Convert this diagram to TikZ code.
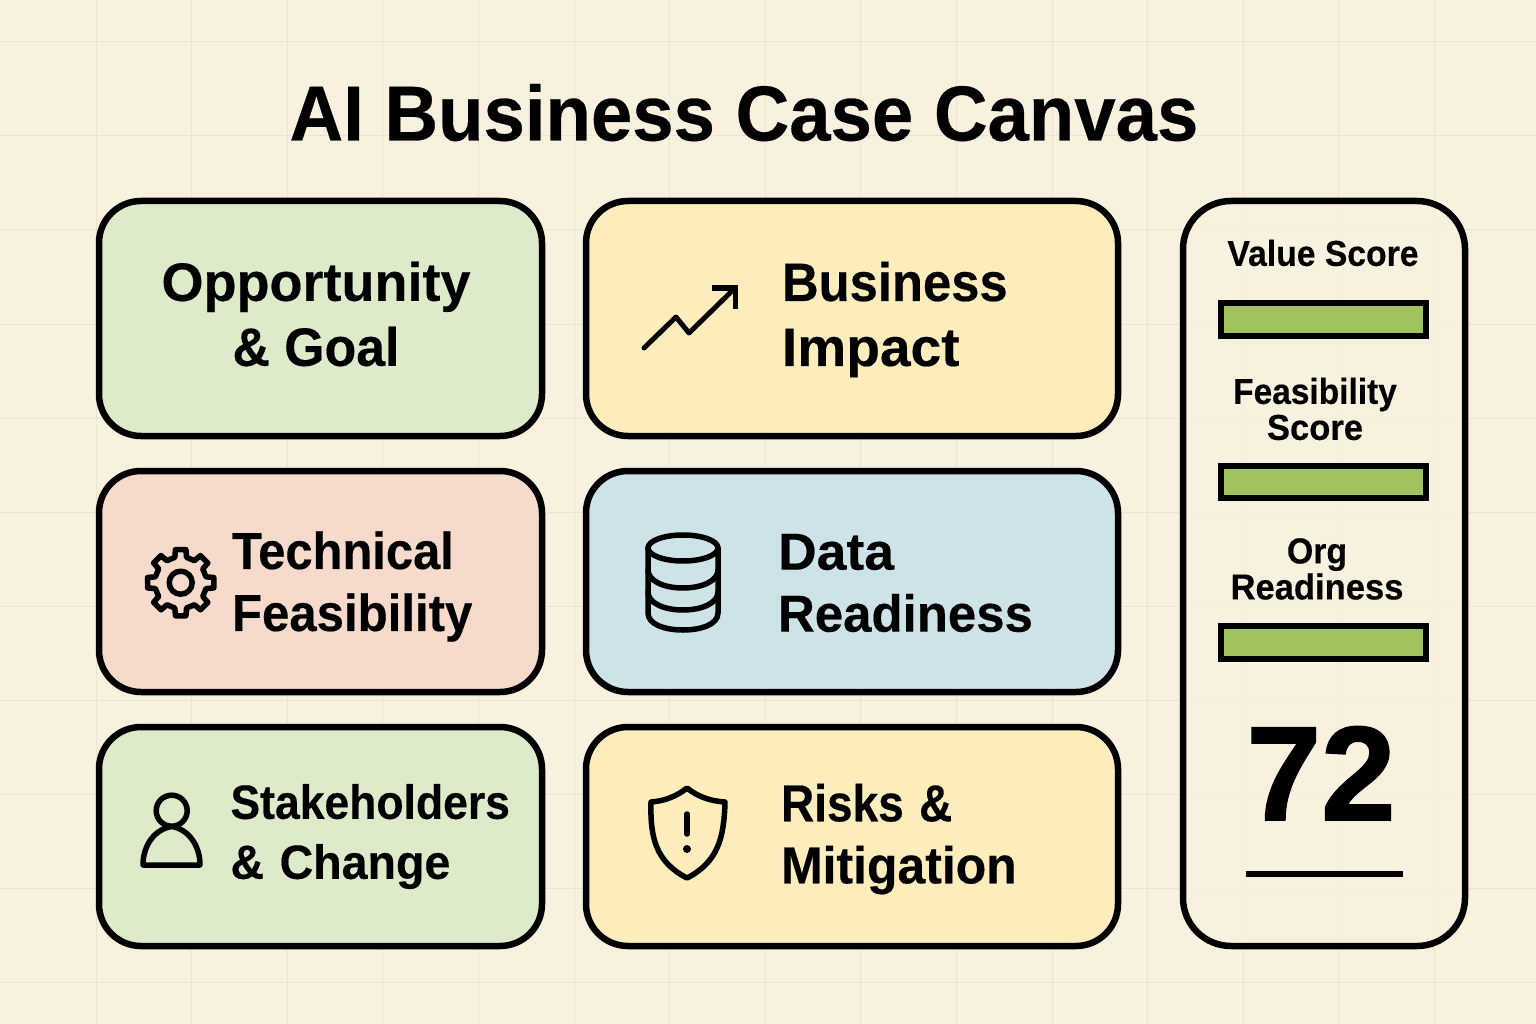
\documentclass[tikz,border=0pt]{standalone}
\usepackage{graphicx}
\usepackage{fontspec}
\setmainfont{Liberation Sans}[BoldFont={Liberation Sans Bold},BoldFeatures={FakeBold=0.35}]
\newfontface\heavyface{Liberation Sans Bold}[FakeBold=1.3]
\newcommand{\sx}[2]{\scalebox{#1}[1]{#2}}
\definecolor{paper}{HTML}{F9F1DF}
\definecolor{gridc}{HTML}{ECE3D1}
\definecolor{cgreen}{HTML}{DEEBCB}
\definecolor{cyellow}{HTML}{FDEDBC}
\definecolor{cpink}{HTML}{F6DBCD}
\definecolor{cblue}{HTML}{CDE3E8}
\definecolor{cbar}{HTML}{A0C35F}
\tikzset{
  card/.style={draw=black,line width=6.5pt,rounded corners=42pt},
  meter/.style={draw=black,line width=6pt,fill=cbar},
  icon/.style={draw=black,line width=5.5pt,line cap=round,line join=round},
  gridline/.style={gridc,line width=1pt},
  big/.style={inner sep=0pt,align=left,anchor=center,font=\bfseries\fontsize{52}{62}\selectfont},
  small/.style={inner sep=0pt,align=center,anchor=center,font=\bfseries\fontsize{36}{36}\selectfont},
}
\begin{document}
\begin{tikzpicture}[x=1pt,y=-1pt]
\useasboundingbox (0,0) rectangle (1536,1024);
\fill[paper] (0,0) rectangle (1536,1024);
\foreach \k in {0,...,14} \draw[gridline] ({96+95.6*\k},0) -- ({96+95.6*\k},1024);
\foreach \k in {0,...,10} \draw[gridline] (0,{42+94*\k}) -- (1536,{42+94*\k});

\node[inner sep=0pt,anchor=base,font=\bfseries\fontsize{78}{78}\selectfont] (title) at (744,140.5) {\sx{0.953}{AI Business Case Canvas}};

% cards
\draw[card,fill=cgreen]  (99,201) rectangle (542,436);
\draw[card,fill=cyellow] (586,201) rectangle (1118,436);
\draw[card,fill=cpink]   (99,471) rectangle (542,692);
\draw[card,fill=cblue]   (586,471) rectangle (1118,692);
\draw[card,fill=cgreen]  (99,727) rectangle (542,946);
\draw[card,fill=cyellow] (586,727) rectangle (1118,946);
\draw[card,rounded corners=48pt,fill=paper,fill opacity=0.8] (1183,201) rectangle (1465,946);

% card labels
\node[big,align=center,font=\bfseries\fontsize{54}{62}\selectfont] (opp) at (316,314) {Opportunity\\[3pt]\sx{0.96}{\& Goal}};
\node[big,text width=240pt,font=\bfseries\fontsize{54}{62}\selectfont] (imp) at (902,319.5) {\sx{0.94}{Business}\\[3pt]\sx{1.02}{Impact}};
\node[big,text width=245pt] (tech) at (354.5,586.5) {\sx{0.94}{Technical}\\\sx{0.945}{Feasibility}};
\node[big,text width=260pt] (data) at (908,583) {\sx{1.03}{Data}\\\sx{0.98}{Readiness}};
\node[big,text width=285pt,font=\bfseries\fontsize{48}{60}\selectfont] (stake) at (373,836.5) {\sx{0.927}{Stakeholders}\\\sx{0.97}{\& Change}};
\node[big,text width=240pt] (risk) at (901,839) {\sx{0.885}{Risks \&}\\\sx{0.96}{Mitigation}};

% score panel
\node[small] (vs) at (1323,253) {\sx{0.936}{Value Score}};
\node[small] (fs) at (1315,409) {\sx{0.93}{Feasibility}\\\sx{0.96}{Score}};
\node[small] (or) at (1317,569) {\sx{0.94}{Org}\\\sx{0.96}{Readiness}};
\draw[meter] (1221,303) rectangle (1426,336);
\draw[meter] (1221,466) rectangle (1426,498);
\draw[meter] (1221,626) rectangle (1426,659);
\node[inner sep=0pt,anchor=base,font=\heavyface\fontsize{134}{134}\selectfont] (score) at (1321,820) {72};
\draw[black,line width=6pt] (1246,874) -- (1403,874);

% chart icon
\draw[icon,line width=5pt] (644,348) -- (676,317) -- (689,333) -- (733,290);
\draw[icon,line width=5pt,line cap=butt,line join=miter] (712,288) -- (735,288) -- (735,309);

% gear icon
\begin{scope}[shift={(180.7,582.7)}]
\draw[icon] (0,0) circle (11.5);
\draw[icon] (-13:26)
  \foreach \a in {0,45,...,315} { -- (\a-13:26) -- (\a-9:33.5) -- (\a+9:33.5) -- (\a+13:26) } -- cycle;
\end{scope}

% database icon
\draw[icon] (683,548) ellipse (35 and 13);
\draw[icon] (648,548) -- (648,613) .. controls (648,624) and (664,630) .. (683,630) .. controls (702,630) and (718,624) .. (718,613) -- (718,548);
\draw[icon] (648,570) .. controls (648,581) and (664,588) .. (683,588) .. controls (702,588) and (718,581) .. (718,570);
\draw[icon] (648,592) .. controls (648,603) and (664,610) .. (683,610) .. controls (702,610) and (718,603) .. (718,592);

% person icon
\draw[icon] (171.7,810.7) circle (15.5);
\draw[icon] (143,865) -- (200,865) .. controls (200,845) and (188,829) .. (171.7,826.5) .. controls (155,829) and (143,845) .. (143,865) -- cycle;

% shield icon
\draw[icon] (687,788) .. controls (677,796) and (665,801) .. (651,802) .. controls (650,838) and (656,862) .. (687,878) .. controls (718,862) and (724,838) .. (725,802) .. controls (709,801) and (697,796) .. (687,788) -- cycle;
\draw[icon] (687,814) -- (687,834);
\fill[black] (687,849) circle (4);
\end{tikzpicture}
\end{document}
